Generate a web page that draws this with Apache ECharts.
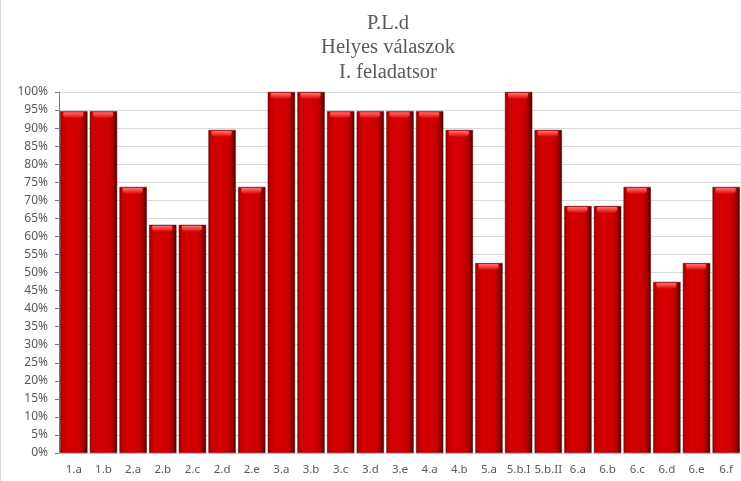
<!DOCTYPE html>
<html><head><meta charset="utf-8">
<script src="https://cdn.jsdelivr.net/npm/echarts@6/dist/echarts.min.js"></script>
<style>html,body{margin:0;padding:0;background:#fff}#c{width:741px;height:481px;border-left:1px solid #d9d9d9;box-sizing:border-box}</style>
</head><body><div id="c"></div>
<script>
const categories = ["1.a","1.b","2.a","2.b","2.c","2.d","2.e","3.a","3.b","3.c","3.d","3.e","4.a","4.b","5.a","5.b.I","5.b.II","6.a","6.b","6.c","6.d","6.e","6.f"];
const values = [94.7,94.7,73.7,63.2,63.2,89.5,73.7,100,100,94.7,94.7,94.7,94.7,89.5,52.6,100,89.5,68.4,68.4,73.7,47.4,52.6,73.7];
const yTicks = {min:0, max:100, interval:5};
const titleLines = ["P.L.d","Helyes válaszok","I. feladatsor"];

const chart = echarts.init(document.getElementById('c'));
const barGrad = new echarts.graphic.LinearGradient(0,0,1,0,[
  {offset:0,color:'#8a0000'},{offset:0.08,color:'#c00000'},{offset:0.3,color:'#d60000'},
  {offset:0.72,color:'#cc0000'},{offset:0.9,color:'#950000'},{offset:1,color:'#3a0000'}]);
chart.setOption({
  animation:false,
  title:{text:titleLines.join('\n'),left:382,textAlign:'center',top:6,
    textStyle:{fontFamily:'Liberation Serif',fontSize:20.5,fontWeight:'normal',color:'#595959',lineHeight:24.5}},
  grid:{left:58,right:-5,top:92,bottom:28},
  xAxis:{type:'category',data:categories,
    axisLine:{show:false},axisTick:{show:false},
    axisLabel:{color:'#595959',fontFamily:'Noto Sans',fontSize:11.5,margin:11,interval:0}},
  yAxis:{type:'value',min:yTicks.min,max:yTicks.max,interval:yTicks.interval,
    axisLine:{show:true,lineStyle:{color:'#5b7fa6'}},
    axisTick:{show:true,length:4,lineStyle:{color:'#5b7fa6'}},
    axisLabel:{formatter:'{value}%',color:'#595959',fontFamily:'Noto Sans',fontSize:12,margin:11},
    splitLine:{lineStyle:{color:'#d9d9d9'}}},
  series:[{type:'bar',data:values,barCategoryGap:'8%',
    itemStyle:{color:barGrad,borderColor:'#5a0000',borderWidth:0.5}},
   {type:'custom',renderItem:function(params,api){
      const v=api.value(1);const top=api.coord([api.value(0),v]);
      const w=api.size([1,0])[0]*0.92;
      const x=top[0]-w/2;
      return {type:'rect',shape:{x:x+3,y:top[1]+1,width:w-7,height:6,r:[1,1,4,4]},
        style:{fill:new echarts.graphic.LinearGradient(0,0,0,1,[{offset:0,color:'#ff7070'},{offset:0.6,color:'#ee3030'},{offset:1,color:'#d80000'}])}};
    },data:values.map((v,i)=>[i,v]),z:3}]
});
</script></body></html>
